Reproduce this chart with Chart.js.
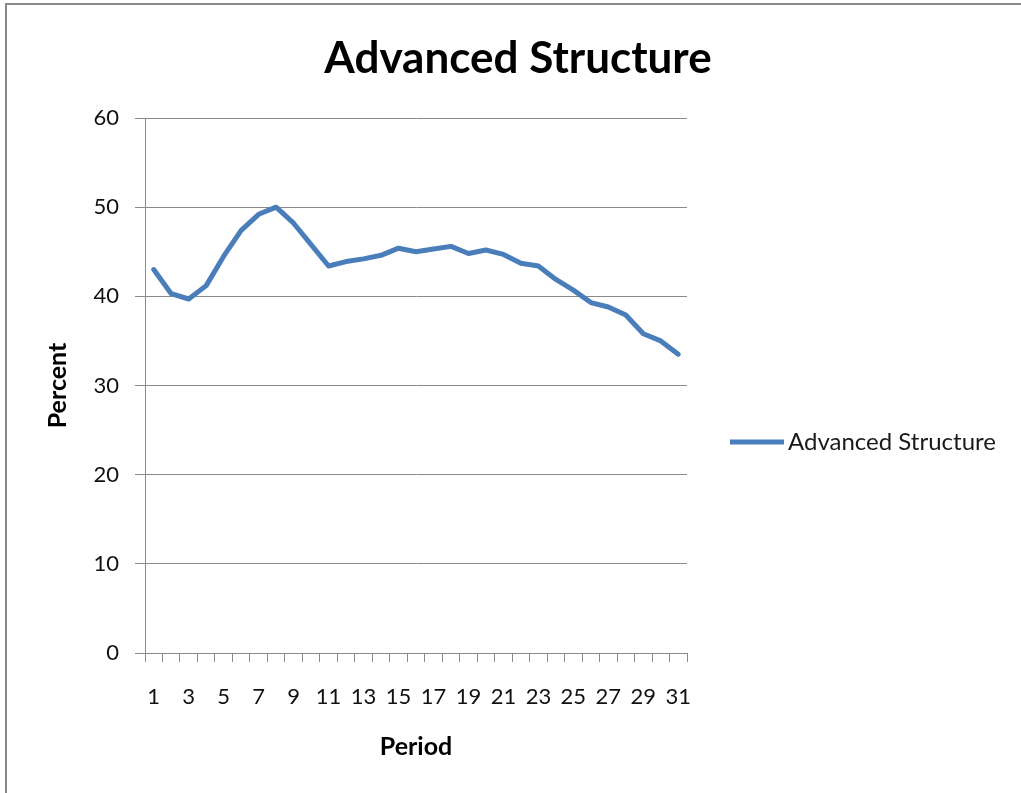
<!DOCTYPE html>
<html>
<head>
<meta charset="utf-8">
<title>Advanced Structure</title>
<script src="https://cdn.jsdelivr.net/npm/chart.js@4.4.1/dist/chart.umd.min.js"></script>
<style>
  html, body { margin: 0; padding: 0; background: #ffffff; }
  #wrap { position: relative; width: 1021px; height: 793px; }
  canvas { display: block; }
</style>
</head>
<body>
<div id="wrap"><canvas id="chart" width="1021" height="793"></canvas></div>
<script>
// Periods on the category axis
const periods = [1, 2, 3, 4, 5, 6, 7, 8, 9, 10, 11, 12, 13, 14, 15, 16,
                 17, 18, 19, 20, 21, 22, 23, 24, 25, 26, 27, 28, 29, 30, 31];

// Percent per period
const advancedStructure = [43.0, 40.3, 39.7, 41.2, 44.5, 47.4, 49.2, 50.0, 48.2, 45.8,
                           43.4, 43.9, 44.2, 44.6, 45.4, 45.0, 45.3, 45.6, 44.8, 45.2,
                           44.7, 43.7, 43.4, 41.9, 40.7, 39.3, 38.8, 37.9, 35.8, 35.0, 33.5];

// Value axis ticks
const percentTicks = [0, 10, 20, 30, 40, 50, 60];

const chartTitle = 'Advanced Structure';
const seriesName = 'Advanced Structure';
const yTitle = 'Percent';
const xTitle = 'Period';

const FONT = 'Lato, "Open Sans", "Liberation Sans", sans-serif';
const GRID = '#8a8a8a';
const LINE = '#4a7ebb';

// Outer frame of the chart object
const framePlugin = {
  id: 'frame',
  beforeDraw(chart) {
    const ctx = chart.ctx;
    ctx.save();
    ctx.fillStyle = '#ffffff';
    ctx.fillRect(0, 0, chart.width, chart.height);
    ctx.strokeStyle = '#878787';
    ctx.lineWidth = 2;
    ctx.strokeRect(6, 4, chart.width + 20, chart.height + 20);
    ctx.restore();
  }
};

// Title above the plot and the legend entry to the right of it
const labelsPlugin = {
  id: 'labels',
  afterDraw(chart) {
    const ctx = chart.ctx;
    ctx.save();
    ctx.fillStyle = '#000000';
    ctx.font = 'bold 44px ' + FONT;
    ctx.textAlign = 'center';
    ctx.textBaseline = 'alphabetic';
    ctx.fillText(chartTitle, 518, 73);

    const ds = chart.data.datasets[0];
    ctx.strokeStyle = ds.borderColor;
    ctx.lineWidth = 5;
    ctx.lineCap = 'butt';
    ctx.beginPath();
    ctx.moveTo(730, 442);
    ctx.lineTo(784, 442);
    ctx.stroke();

    ctx.fillStyle = '#1a1a1a';
    ctx.font = '24px ' + FONT;
    ctx.textAlign = 'left';
    ctx.textBaseline = 'middle';
    ctx.fillText(ds.label, 788, 442);
    ctx.restore();
  }
};

new Chart(document.getElementById('chart'), {
  type: 'line',
  data: {
    labels: periods,
    datasets: [{
      label: seriesName,
      data: advancedStructure,
      borderColor: LINE,
      backgroundColor: LINE,
      borderWidth: 5,
      borderJoinStyle: 'round',
      borderCapStyle: 'round',
      pointRadius: 0,
      pointHoverRadius: 0,
      tension: 0,
      fill: false
    }]
  },
  options: {
    responsive: false,
    animation: false,
    events: [],
    layout: { padding: { left: 0, right: 334, top: 118, bottom: 0 } },
    plugins: {
      legend: { display: false },
      title: { display: false },
      tooltip: { enabled: false }
    },
    scales: {
      x: {
        type: 'category',
        offset: true,
        grid: {
          offset: true,
          drawOnChartArea: false,
          drawTicks: true,
          tickLength: 9,
          color: GRID,
          lineWidth: 1
        },
        border: { display: true, color: GRID, width: 1 },
        ticks: {
          autoSkip: false,
          maxRotation: 0,
          minRotation: 0,
          padding: 22,
          color: '#111111',
          font: { family: FONT, size: 22 },
          callback: (v, i) => (i % 2 === 0 ? String(periods[i]) : '')
        },
        title: {
          display: true,
          text: xTitle,
          color: '#000000',
          font: { family: FONT, size: 25, weight: 'bold' },
          padding: { top: 0, bottom: 31 }
        },
        afterFit: (scale) => { scale.height = 793 - 653; }
      },
      y: {
        min: 0,
        max: 60,
        afterBuildTicks: (scale) => { scale.ticks = percentTicks.map(v => ({ value: v })); },
        grid: {
          drawOnChartArea: true,
          drawTicks: true,
          tickLength: 10,
          color: GRID,
          lineWidth: 1
        },
        border: { display: true, color: GRID, width: 1 },
        ticks: {
          padding: 16,
          color: '#111111',
          font: { family: FONT, size: 22 }
        },
        title: {
          display: true,
          text: yTitle,
          color: '#000000',
          font: { family: FONT, size: 25, weight: 'bold' },
          padding: { top: 43, bottom: 0 }
        },
        afterFit: (scale) => { scale.width = 145; }
      }
    }
  },
  plugins: [framePlugin, labelsPlugin]
});
</script>
</body>
</html>
